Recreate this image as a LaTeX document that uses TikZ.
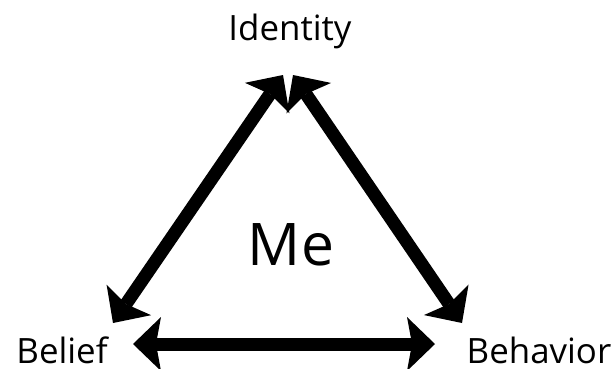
\documentclass[tikz,border=0pt]{standalone}
\usepackage{fontspec}
\setmainfont{Open Sans}
\usetikzlibrary{arrows.meta}

\begin{document}
\begin{tikzpicture}[
x=1bp,y=-1bp,
every node/.style={inner sep=0pt,anchor=base,font=\fontsize{35}{42}\selectfont},
bigtext/.style={font=\fontsize{59}{70}\selectfont},
bond/.style={line width=13bp,
  {Stealth[length=28bp,width=54bp,inset=5bp,line width=0pt]}-{Stealth[length=28bp,width=54bp,inset=5bp,line width=0pt]}}
]
\useasboundingbox (0,0) rectangle (615,368);
\node (identity) at (290,40) {Identity};
\node (belief) at (62,363) {Belief};
\node (behavior) at (539,363) {Behavior};
\node[bigtext] (me) at (291,265) {Me};
\coordinate (topL) at (283,75);
\coordinate (topR) at (293,75);
\coordinate (botL) at (113,323);
\coordinate (botR) at (462,323);
\coordinate (baseL) at (133,344);
\coordinate (baseR) at (435,344);
\draw[bond] (topL) -- (botL);
\draw[bond] (topR) -- (botR);
\draw[bond] (baseL) -- (baseR);
\end{tikzpicture}
\end{document}
